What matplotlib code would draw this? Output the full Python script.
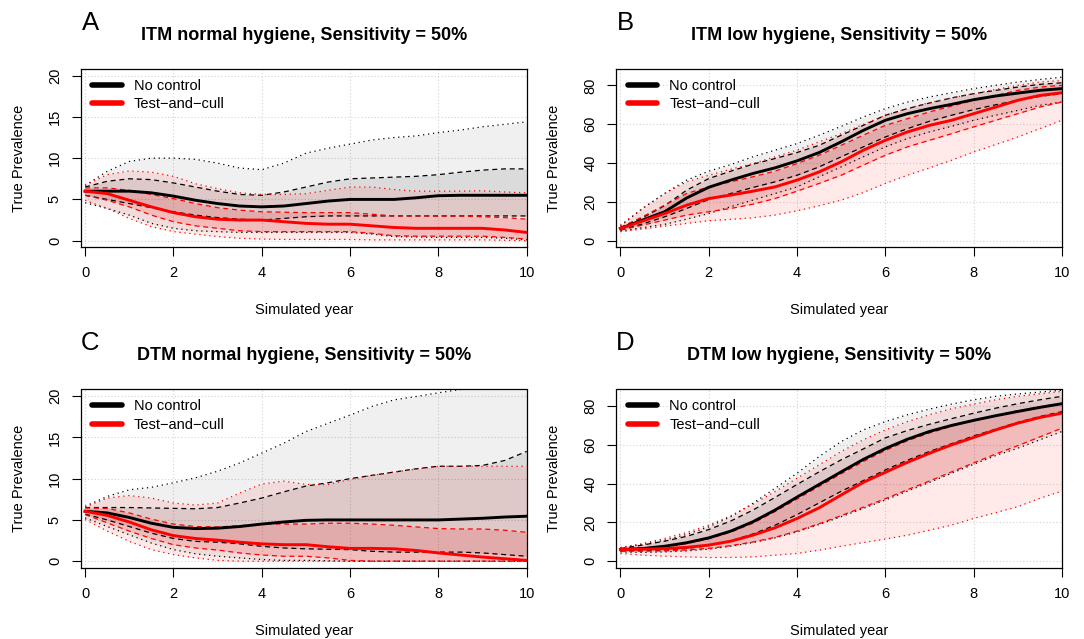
import matplotlib
matplotlib.use('Agg')
import matplotlib.pyplot as plt

plt.rcParams['font.family'] = ['Liberation Sans', 'DejaVu Sans']

YEARS = [0, 0.5, 1, 1.5, 2, 2.5, 3, 3.5, 4, 4.5, 5, 5.5, 6, 6.5, 7, 7.5, 8, 8.5, 9, 9.5, 10]

# panel A: ITM normal hygiene
a_nc_med = [6.0, 6.0, 6.0, 5.8, 5.4, 4.9, 4.5, 4.2, 4.1, 4.2, 4.5, 4.8, 5.0, 5.0, 5.0, 5.2, 5.45, 5.5, 5.5, 5.5, 5.5]
a_nc_q75 = [6.5, 7.2, 7.5, 7.4, 7.0, 6.5, 6.0, 5.6, 5.5, 5.9, 6.5, 7.1, 7.5, 7.6, 7.7, 7.8, 8.0, 8.3, 8.55, 8.7, 8.7]
a_nc_q25 = [5.5, 5.0, 4.5, 4.0, 3.5, 3.1, 2.8, 2.6, 2.5, 2.7, 2.9, 3.0, 3.0, 3.0, 3.0, 3.0, 3.0, 3.0, 3.0, 3.0, 3.0]
a_nc_hi = [6.7, 8.4, 9.6, 10.0, 10.0, 9.85, 9.4, 8.8, 8.6, 9.4, 10.6, 11.2, 11.7, 12.2, 12.5, 12.7, 13.1, 13.4, 13.8, 14.1, 14.4]
a_nc_lo = [4.6, 3.9, 3.1, 2.1, 1.5, 1.2, 1.1, 1.0, 1.0, 1.0, 1.0, 1.0, 1.0, 0.8, 0.5, 0.45, 0.4, 0.4, 0.4, 0.3, 0.1]
a_tc_med = [6.0, 5.7, 4.9, 4.1, 3.4, 2.9, 2.6, 2.5, 2.5, 2.3, 2.1, 2.0, 2.0, 1.8, 1.6, 1.5, 1.5, 1.5, 1.5, 1.3, 1.0]
a_tc_q75 = [6.4, 6.4, 6.1, 5.6, 5.1, 4.5, 4.0, 3.7, 3.5, 3.45, 3.4, 3.4, 3.4, 3.2, 3.0, 3.0, 3.0, 3.0, 2.9, 2.8, 2.6]
a_tc_q25 = [5.5, 4.9, 4.1, 3.1, 2.3, 1.8, 1.5, 1.2, 1.1, 1.1, 1.1, 1.1, 1.1, 0.9, 0.6, 0.55, 0.55, 0.55, 0.55, 0.4, 0.2]
a_tc_hi = [6.7, 8.0, 8.45, 8.3, 7.8, 6.9, 6.3, 5.8, 5.6, 5.6, 5.7, 6.1, 6.5, 6.5, 6.2, 6.0, 6.0, 6.0, 6.05, 5.9, 5.8]
a_tc_lo = [4.9, 3.9, 2.7, 1.7, 1.1, 0.8, 0.5, 0.3, 0.2, 0.15, 0.15, 0.15, 0.15, 0.1, 0.1, 0.1, 0.1, 0.1, 0.1, 0.05, 0.0]

# panel B: ITM low hygiene
b_nc_med = [6.3, 10.6, 14.9, 22.0, 27.5, 31.2, 34.6, 37.5, 41.1, 45.4, 50.9, 56.8, 62.0, 65.4, 68.0, 70.2, 72.6, 74.5, 76.0, 77.4, 78.3]
b_nc_q75 = [6.8, 11.8, 18.0, 26.0, 32.0, 35.8, 39.4, 42.3, 45.4, 49.1, 54.3, 59.4, 64.6, 68.0, 70.9, 73.5, 75.7, 77.4, 79.1, 80.5, 81.3]
b_nc_q25 = [5.5, 8.6, 12.3, 16.6, 21.2, 24.3, 27.4, 30.3, 33.7, 38.0, 43.2, 48.3, 53.4, 57.7, 61.5, 64.6, 67.5, 70.0, 72.3, 74.3, 75.7]
b_nc_hi = [7.5, 16.6, 24.3, 31.2, 35.8, 39.2, 43.2, 46.6, 50.0, 54.3, 58.9, 63.7, 68.0, 71.4, 74.0, 76.2, 78.3, 80.0, 81.7, 83.0, 84.2]
b_nc_lo = [5.0, 6.7, 8.4, 11.1, 14.0, 17.5, 20.9, 24.3, 27.7, 32.9, 38.0, 43.2, 48.3, 52.6, 56.0, 58.9, 62.0, 64.6, 67.1, 69.7, 71.4]
b_tc_med = [6.3, 10.1, 14.0, 18.3, 21.7, 23.5, 25.5, 27.7, 31.2, 35.4, 40.6, 46.6, 51.7, 56.0, 59.4, 62.0, 65.4, 68.8, 72.3, 74.8, 76.2]
b_tc_q75 = [6.8, 12.3, 18.3, 24.3, 27.7, 30.3, 32.9, 35.8, 39.7, 44.0, 49.1, 54.3, 59.4, 62.8, 66.3, 69.3, 72.3, 74.8, 77.4, 79.1, 80.0]
b_tc_q25 = [5.5, 8.0, 10.6, 13.2, 14.9, 16.6, 18.8, 21.7, 25.5, 29.5, 33.7, 38.9, 44.0, 48.3, 51.7, 55.1, 58.6, 62.0, 65.4, 68.8, 71.4]
b_tc_hi = [8.0, 16.6, 24.3, 30.3, 33.7, 36.8, 39.7, 43.2, 46.6, 50.9, 55.1, 59.9, 64.6, 68.0, 71.1, 73.5, 75.7, 77.9, 80.0, 81.7, 82.5]
b_tc_lo = [4.6, 6.0, 7.5, 8.9, 10.3, 11.0, 11.8, 13.2, 15.4, 18.0, 20.9, 24.8, 29.5, 33.7, 37.5, 41.4, 45.7, 49.5, 53.4, 57.7, 62.0]

# panel C: DTM normal hygiene
c_nc_med = [6.05, 5.85, 5.3, 4.6, 4.1, 3.95, 4.0, 4.2, 4.5, 4.75, 4.95, 5.0, 5.0, 5.0, 5.0, 5.0, 5.0, 5.1, 5.2, 5.35, 5.45]
c_nc_q75 = [6.5, 6.5, 6.5, 6.45, 6.4, 6.35, 6.5, 7.05, 7.65, 8.4, 9.1, 9.5, 10.0, 10.4, 10.8, 11.2, 11.5, 11.5, 11.6, 12.2, 13.3]
c_nc_q25 = [5.7, 5.0, 4.2, 3.4, 2.75, 2.4, 2.3, 2.1, 1.8, 1.6, 1.5, 1.45, 1.4, 1.2, 1.1, 1.1, 1.1, 1.1, 1.0, 0.8, 0.6]
c_nc_hi = [6.65, 7.85, 8.65, 8.95, 9.5, 10.1, 10.9, 11.9, 13.1, 14.3, 15.7, 16.7, 17.7, 18.75, 19.55, 19.95, 20.4, 20.8, 21.1, 21.3, 21.5]
c_nc_lo = [5.25, 4.2, 3.2, 2.2, 1.4, 0.9, 0.6, 0.4, 0.2, 0.1, 0.1, 0.05, 0.0, 0.0, 0.0, 0.0, 0.0, 0.0, 0.0, 0.0, 0.0]
c_tc_med = [6.05, 5.55, 4.75, 3.8, 3.1, 2.75, 2.55, 2.3, 2.1, 2.0, 2.0, 1.75, 1.55, 1.55, 1.5, 1.3, 1.0, 0.75, 0.5, 0.3, 0.1]
c_tc_q75 = [6.45, 6.4, 5.85, 5.1, 4.5, 4.2, 4.15, 4.3, 4.5, 4.5, 4.5, 4.6, 4.6, 4.5, 4.35, 4.15, 3.95, 3.9, 3.9, 3.75, 3.5]
c_tc_q25 = [5.65, 4.65, 3.65, 2.75, 2.0, 1.6, 1.35, 1.0, 0.75, 0.6, 0.6, 0.4, 0.1, 0.0, 0.0, 0.0, 0.0, 0.0, 0.0, 0.0, 0.0]
c_tc_hi = [6.55, 7.65, 7.95, 7.65, 7.05, 6.8, 7.05, 8.25, 9.35, 9.7, 9.3, 9.3, 9.9, 10.4, 10.8, 11.15, 11.5, 11.5, 11.5, 11.5, 11.5]
c_tc_lo = [5.05, 3.65, 2.4, 1.4, 0.8, 0.4, 0.1, 0.0, 0.0, 0.0, 0.0, 0.0, 0.0, 0.0, 0.0, 0.0, 0.0, 0.0, 0.0, 0.0, 0.0]

# panel D: DTM low hygiene
d_nc_med = [6.0, 6.5, 7.7, 9.5, 12.0, 15.5, 20.3, 26.3, 33.0, 39.5, 46.0, 52.4, 58.0, 62.8, 66.8, 69.9, 72.5, 74.9, 77.1, 79.2, 81.1]
d_nc_q75 = [6.5, 8.3, 10.3, 12.8, 16.3, 20.7, 26.3, 32.8, 39.5, 46.0, 52.2, 57.8, 63.5, 67.3, 70.5, 73.4, 76.2, 78.8, 81.1, 83.1, 84.9]
d_nc_q25 = [5.3, 5.4, 5.8, 6.6, 8.0, 10.5, 14.0, 18.5, 24.0, 30.0, 36.0, 41.5, 47.0, 52.0, 56.5, 60.5, 64.5, 68.0, 71.5, 74.5, 77.0]
d_nc_hi = [6.9, 8.6, 10.8, 13.8, 17.7, 22.9, 29.8, 37.5, 45.3, 53.9, 61.6, 67.6, 71.9, 75.4, 78.3, 80.9, 83.1, 84.9, 86.1, 87.1, 88.0]
d_nc_lo = [4.8, 4.5, 4.8, 5.3, 6.2, 7.7, 9.6, 12.0, 15.1, 18.9, 22.9, 27.2, 31.5, 36.1, 40.6, 45.3, 49.9, 54.4, 58.2, 62.5, 66.8]
d_tc_med = [6.0, 6.2, 6.5, 7.1, 8.3, 10.3, 13.4, 17.2, 22.0, 27.5, 34.1, 40.6, 45.8, 50.9, 55.6, 59.9, 63.7, 67.6, 71.1, 74.0, 76.2]
d_tc_q75 = [6.5, 6.9, 7.6, 9.0, 11.5, 15.0, 19.5, 25.5, 32.0, 38.5, 45.0, 51.3, 57.0, 62.0, 66.0, 69.5, 72.5, 75.0, 77.5, 79.5, 81.3]
d_tc_q25 = [5.3, 5.2, 5.3, 5.8, 6.6, 8.0, 9.9, 12.3, 15.5, 19.3, 23.5, 27.8, 32.2, 36.8, 41.3, 46.0, 50.6, 55.2, 59.5, 64.0, 68.5]
d_tc_hi = [7.1, 9.1, 11.7, 14.8, 18.6, 23.4, 29.3, 35.8, 42.7, 49.6, 56.5, 62.5, 67.6, 71.9, 75.4, 78.5, 80.9, 83.1, 84.9, 86.2, 87.4]
d_tc_lo = [4.0, 3.1, 2.6, 2.2, 1.9, 1.9, 2.2, 3.1, 4.0, 5.7, 7.7, 9.6, 11.4, 13.4, 16.0, 18.6, 22.0, 25.0, 28.1, 32.4, 36.1]

PANELS = [
    ('A', 'ITM normal hygiene, Sensitivity = 50%', 20, [0, 5, 10, 15, 20],
     (a_nc_med, a_nc_q25, a_nc_q75, a_nc_lo, a_nc_hi),
     (a_tc_med, a_tc_q25, a_tc_q75, a_tc_lo, a_tc_hi)),
    ('B', 'ITM low hygiene, Sensitivity = 50%', 85, [0, 20, 40, 60, 80],
     (b_nc_med, b_nc_q25, b_nc_q75, b_nc_lo, b_nc_hi),
     (b_tc_med, b_tc_q25, b_tc_q75, b_tc_lo, b_tc_hi)),
    ('C', 'DTM normal hygiene, Sensitivity = 50%', 20, [0, 5, 10, 15, 20],
     (c_nc_med, c_nc_q25, c_nc_q75, c_nc_lo, c_nc_hi),
     (c_tc_med, c_tc_q25, c_tc_q75, c_tc_lo, c_tc_hi)),
    ('D', 'DTM low hygiene, Sensitivity = 50%', 85, [0, 20, 40, 60, 80],
     (d_nc_med, d_nc_q25, d_nc_q75, d_nc_lo, d_nc_hi),
     (d_tc_med, d_tc_q25, d_tc_q75, d_tc_lo, d_tc_hi)),
]

W, H = 1084, 639
fig = plt.figure(figsize=(W / 100, H / 100), dpi=100)

ax_w, ax_h = 446, 178.3
lefts = [80.7, 616, 80.7, 616]
tops = [69, 69, 389.5, 389.5]


def draw_group(ax, series, col, a_out, a_in):
    med, q25, q75, lo, hi = series
    ax.fill_between(YEARS, lo, hi, color=col, alpha=a_out, lw=0)
    ax.fill_between(YEARS, q25, q75, color=col, alpha=a_in, lw=0)
    for s in (lo, hi):
        ax.plot(YEARS, s, color=col, lw=0.9, ls=(0, (1, 3)))
    for s in (q25, q75):
        ax.plot(YEARS, s, color=col, lw=0.9, ls=(0, (4, 3)))


for i, (letter, title, ymax, yticks, nc, tc) in enumerate(PANELS):
    l, t = lefts[i], tops[i]
    ax = fig.add_axes([l / W, 1 - (t + ax_h) / H, ax_w / W, ax_h / H])

    draw_group(ax, nc, 'black', 0.06, 0.085)
    draw_group(ax, tc, 'red', 0.085, 0.14)
    l1, = ax.plot(YEARS, nc[0], color='black', lw=2.1)
    l2, = ax.plot(YEARS, tc[0], color='red', lw=2.1)

    ax.set_xlim(-0.1, 10)
    ax.set_ylim(-0.04 * ymax, 1.04 * ymax)
    ax.set_xticks([0, 2, 4, 6, 8, 10])
    ax.set_yticks(yticks)
    ax.set_yticklabels([str(v) for v in yticks], rotation=90, va='center')
    ax.tick_params(direction='out', length=6.5, width=0.8, labelsize=10.5, pad=7)
    for sp in ax.spines.values():
        sp.set_linewidth(0.9)
    ax.grid(True, color='#d3d3d3', ls=(0, (1, 2)), lw=0.8)
    ax.set_axisbelow(True)

    ax.set_xlabel('Simulated year', fontsize=10.5)
    ax.xaxis.set_label_coords(0.5, -63 / ax_h)
    ax.xaxis.label.set_va('center')
    ax.set_ylabel('True Prevalence', fontsize=10.5)
    ax.yaxis.set_label_coords(-62 / ax_w, 0.5)
    ax.yaxis.label.set_va('center')

    ax.text(0.5, 1 + 29 / ax_h, title, transform=ax.transAxes, ha='center',
            va='baseline', fontsize=13, fontweight='bold')
    fig.text((l + 9.5) / W, 1 - (t - 39.5) / H, letter, ha='center', va='baseline', fontsize=18.5)

    ax.legend([l1, l2], ['No control', 'Test\u2212and\u2212cull'], loc='upper left',
              bbox_to_anchor=(11.6 / ax_w, 1 - 10 / ax_h), frameon=False,
              fontsize=10.5, handlelength=2.05, handletextpad=0.8,
              labelspacing=0.3, borderaxespad=0, borderpad=0)
    for ln in ax.get_legend().get_lines():
        ln.set_linewidth(4)
        ln.set_solid_capstyle('round')

fig.savefig('out.png', dpi=100)
